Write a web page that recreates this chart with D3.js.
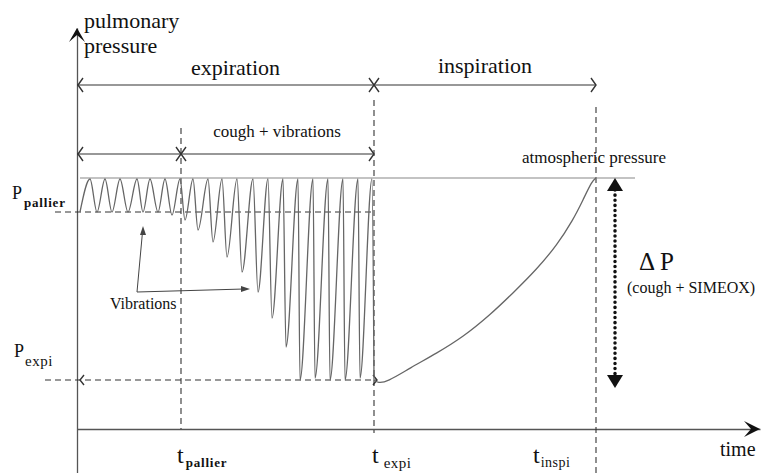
<!DOCTYPE html>
<html><head><meta charset="utf-8"><script src="https://cdn.jsdelivr.net/npm/d3@7"></script></head>
<body style="margin:0">
<script>
    // pressure trace, time in arbitrary units, pressure relative to atmospheric
    var expiT = [0.3, 1.3, 2.0, 2.8, 3.5, 4.3, 5.1, 6.0, 6.6, 7.3, 8.1, 8.8, 9.5, 10.3, 10.8,
                 11.6, 12.1, 13.1, 13.6, 14.5, 15.0, 16.0, 16.5, 17.6, 18.1, 19.1, 19.5, 20.6, 20.9,
                 22.1, 22.3, 23.6, 23.8, 25.1, 25.3, 26.6, 26.8, 28.1, 28.3, 29.5, 29.7];
    var expiP = [-3.4, -0.1, -3.4, -0.1, -3.4, -0.1, -3.4, -0.1, -3.4, -0.1, -3.4, -0.1, -3.7, -0.1, -4.2,
                 -0.1, -5.2, -0.1, -6.4, -0.1, -7.9, -0.1, -9.4, -0.1, -11.4, -0.1, -14.0, -0.1, -16.9,
                 -0.1, -20.2, -0.1, -20.0, -0.1, -20.2, -0.1, -20.2, -0.1, -20.0, -0.1, -20.2];
    var inspT = [29.7, 30.1, 31.0, 33.3, 36.0, 38.6, 41.3, 43.6, 46.0, 48.0, 49.6, 50.6, 51.5, 51.9];
    var inspP = [-20.2, -20.5, -20.4, -19.0, -17.5, -15.9, -13.7, -11.5, -9.1, -6.7, -4.2, -2.2, -0.3, 0];

    // key instants and levels
    var tPallier = 10.4, tExpi = 29.7, tInspi = 51.9, tDelta = 53.8;
    var pAtm = 0, pPallier = -3.4, pExpi = -20.2, pTimeAxis = -25.1;

    var width = 762, height = 473;
    var fam = "'Liberation Serif', 'Times New Roman', Tinos, Times, serif";

    var svg = d3.select("body").append("svg")
                .attr("width", width)
                .attr("height", height);

    var x = d3.scaleLinear().domain([0, 68.3]).range([77, 760]);
    var y = d3.scaleLinear().domain([-29.5, 15]).range([473, 28]);

    var ink = "#333";

    // axes (no ticks, just the lines)
    svg.append("g")
        .attr("transform", "translate(0," + y(pTimeAxis) + ")")
        .call(d3.axisBottom(x).tickValues([]).tickSizeOuter(0));
    svg.append("g")
        .attr("transform", "translate(" + x(0) + ",0)")
        .call(d3.axisLeft(y).tickValues([]).tickSizeOuter(0));
    svg.selectAll(".domain").attr("stroke", "#555").attr("stroke-width", 1.3);

    // bold notched arrow heads on axes
    svg.append("path")
        .attr("d", "M" + (x(0) - 8) + "," + (y(15) + 14) + " L" + x(0) + "," + y(15) +
              " L" + (x(0) + 8) + "," + (y(15) + 14) + " L" + x(0) + "," + (y(15) + 7) + "Z")
        .attr("fill", "#111");
    svg.append("path")
        .attr("d", "M" + (x(68.3) - 16) + "," + (y(pTimeAxis) - 8) + " L" + x(68.3) + "," + y(pTimeAxis) +
              " L" + (x(68.3) - 16) + "," + (y(pTimeAxis) + 8) + " L" + (x(68.3) - 9) + "," + y(pTimeAxis) + "Z")
        .attr("fill", "#111");

    // open chevron, dir 1 = "<", -1 = ">"
    var chevron = function(xt, yt, dir, w, h) {
        svg.append("path")
            .attr("d", "M" + (xt + dir * w) + "," + (yt - h) + " L" + xt + "," + yt +
                  " L" + (xt + dir * w) + "," + (yt + h))
            .attr("fill", "none")
            .attr("stroke", ink)
            .attr("stroke-width", 1.4);
    };

    var hline = function(t0, t1, p, dash, color) {
        svg.append("line")
            .attr("x1", x(t0)).attr("x2", x(t1))
            .attr("y1", y(p)).attr("y2", y(p))
            .attr("stroke", color || ink)
            .attr("stroke-width", 1.1)
            .attr("stroke-dasharray", dash || null);
    };
    var vline = function(t, p0, p1, dash) {
        svg.append("line")
            .attr("x1", x(t)).attr("x2", x(t))
            .attr("y1", y(p0)).attr("y2", y(p1))
            .attr("stroke", ink)
            .attr("stroke-width", 1.1)
            .attr("stroke-dasharray", dash || null);
    };

    // vertical dashed guides
    vline(tPallier, 5.0, pTimeAxis, "6,4");
    vline(tExpi, 7.8, pTimeAxis - 0.4, "6,4");
    vline(tInspi, 7.1, -29.5, "6,4");

    // phase arrows
    var pPhase = 9.3, pCough = 2.4;
    hline(0, tExpi, pPhase);
    hline(tExpi, tInspi, pPhase);
    chevron(x(0) + 1, y(pPhase), 1, 5, 7);
    chevron(x(tExpi), y(pPhase), -1, 5, 7);
    chevron(x(tExpi), y(pPhase), 1, 5, 7);
    chevron(x(tInspi), y(pPhase), -1, 5, 7);

    hline(0, tExpi, pCough);
    chevron(x(0) + 1, y(pCough), 1, 5, 7);
    chevron(x(tPallier), y(pCough), -1, 5, 7);
    chevron(x(tPallier), y(pCough), 1, 5, 7);
    chevron(x(tExpi), y(pCough), -1, 5, 7);

    // pressure levels
    hline(0.3, 55.8, pAtm, null, "#888");
    hline(-2.2, tExpi, pPallier, "6,4");
    hline(-3.2, tExpi + 0.3, pExpi, "6,4");
    chevron(x(0) + 3, y(pExpi), 1, 4, 5);
    chevron(x(tExpi) + 3, y(pExpi), -1, 4, 5);

    // pressure trace
    var line = d3.line()
        .x(function(d) { return x(d[0]); })
        .y(function(d) { return y(d[1]); })
        .curve(d3.curveMonotoneX);

    svg.append("path")
        .datum(d3.zip(expiT, expiP))
        .attr("d", line)
        .attr("fill", "none")
        .attr("stroke", "#666")
        .attr("stroke-width", 1.3);
    svg.append("path")
        .datum(d3.zip(inspT, inspP))
        .attr("d", line.curve(d3.curveBasis))
        .attr("fill", "none")
        .attr("stroke", "#666")
        .attr("stroke-width", 1.3);

    // delta P dotted arrow
    var xd = x(tDelta);
    svg.append("line")
        .attr("x1", xd).attr("x2", xd)
        .attr("y1", y(pAtm) + 12).attr("y2", y(-21.0) - 12)
        .attr("stroke", "#111")
        .attr("stroke-width", 3.5)
        .attr("stroke-linecap", "round")
        .attr("stroke-dasharray", "0.1,5");
    svg.append("path")
        .attr("d", "M" + xd + "," + y(pAtm) + " L" + (xd + 8) + "," + (y(pAtm) + 13) +
              " L" + (xd - 8) + "," + (y(pAtm) + 13) + "Z")
        .attr("fill", "#111");
    svg.append("path")
        .attr("d", "M" + xd + "," + y(-21.0) + " L" + (xd + 8) + "," + (y(-21.0) - 13) +
              " L" + (xd - 8) + "," + (y(-21.0) - 13) + "Z")
        .attr("fill", "#111");

    // vibrations pointers
    var vx = 137, vy = 292;
    svg.append("path")
        .attr("d", "M" + vx + "," + vy + " L" + 142.5 + "," + 232 + " M" + vx + "," + vy + " L" + 244 + "," + 289)
        .attr("fill", "none").attr("stroke", "#444").attr("stroke-width", 1);
    svg.append("path")
        .attr("d", "M143,226 L140,235 L146,235 Z").attr("fill", "#444");
    svg.append("path")
        .attr("d", "M250,289 L241,286 L241,292 Z").attr("fill", "#444");

    // labels
    var labels = [
        {x: 84, y: 28, text: "pulmonary", size: 22, anchor: "start"},
        {x: 84, y: 53, text: "pressure", size: 22, anchor: "start"},
        {x: (x(0) + x(tExpi)) / 2 + 10, y: 75, text: "expiration", size: 22, anchor: "middle"},
        {x: (x(tExpi) + x(tInspi)) / 2, y: 73, text: "inspiration", size: 22, anchor: "middle"},
        {x: 277, y: 137, text: "cough + vibrations", size: 17, anchor: "middle"},
        {x: 594, y: 163, text: "atmospheric pressure", size: 17, anchor: "middle"},
        {x: 110, y: 309, text: "Vibrations", size: 16, anchor: "start"},
        {x: 639, y: 270, text: "\u0394 P", size: 25, anchor: "start"},
        {x: 627, y: 293, text: "(cough + SIMEOX)", size: 16, anchor: "start"},
        {x: 720, y: 456, text: "time", size: 20, anchor: "start"}
    ];
    svg.selectAll("text.lab").data(labels).enter().append("text")
        .attr("class", "lab")
        .attr("x", function(d) { return d.x; })
        .attr("y", function(d) { return d.y; })
        .attr("font-size", function(d) { return d.size; })
        .attr("text-anchor", function(d) { return d.anchor; })
        .attr("fill", "#111")
        .style("font-family", fam)
        .text(function(d) { return d.text; });

    // symbols with subscripts
    var subs = [
        {x: 12, y: 199, main: "P", sub: "pallier", ms: 18, ss: 13, gap: 2, drop: 8, bold: true},
        {x: 14, y: 357, main: "P", sub: "expi", ms: 18, ss: 15, gap: 1, drop: 9, bold: false},
        {x: 177, y: 463, main: "t", sub: "pallier", ms: 24, ss: 13, gap: 2, drop: 4, bold: true},
        {x: 372, y: 463, main: "t", sub: "expi", ms: 24, ss: 15, gap: 5, drop: 5, bold: false},
        {x: 533, y: 463, main: "t", sub: "inspi", ms: 24, ss: 14, gap: 1, drop: 4, bold: false}
    ];
    var st = svg.selectAll("text.sym").data(subs).enter().append("text")
        .attr("class", "sym")
        .attr("x", function(d) { return d.x; })
        .attr("y", function(d) { return d.y; })
        .attr("fill", "#111")
        .style("font-family", fam);
    st.append("tspan")
        .attr("font-size", function(d) { return d.ms; })
        .text(function(d) { return d.main; });
    st.append("tspan")
        .attr("font-size", function(d) { return d.ss; })
        .attr("dx", function(d) { return d.gap; })
        .attr("dy", function(d) { return d.drop; })
        .attr("font-weight", function(d) { return d.bold ? "bold" : "normal"; })
        .attr("letter-spacing", function(d) { return d.bold ? 0.8 : 0.5; })
        .text(function(d) { return d.sub; });
</script>
</body>
</html>
